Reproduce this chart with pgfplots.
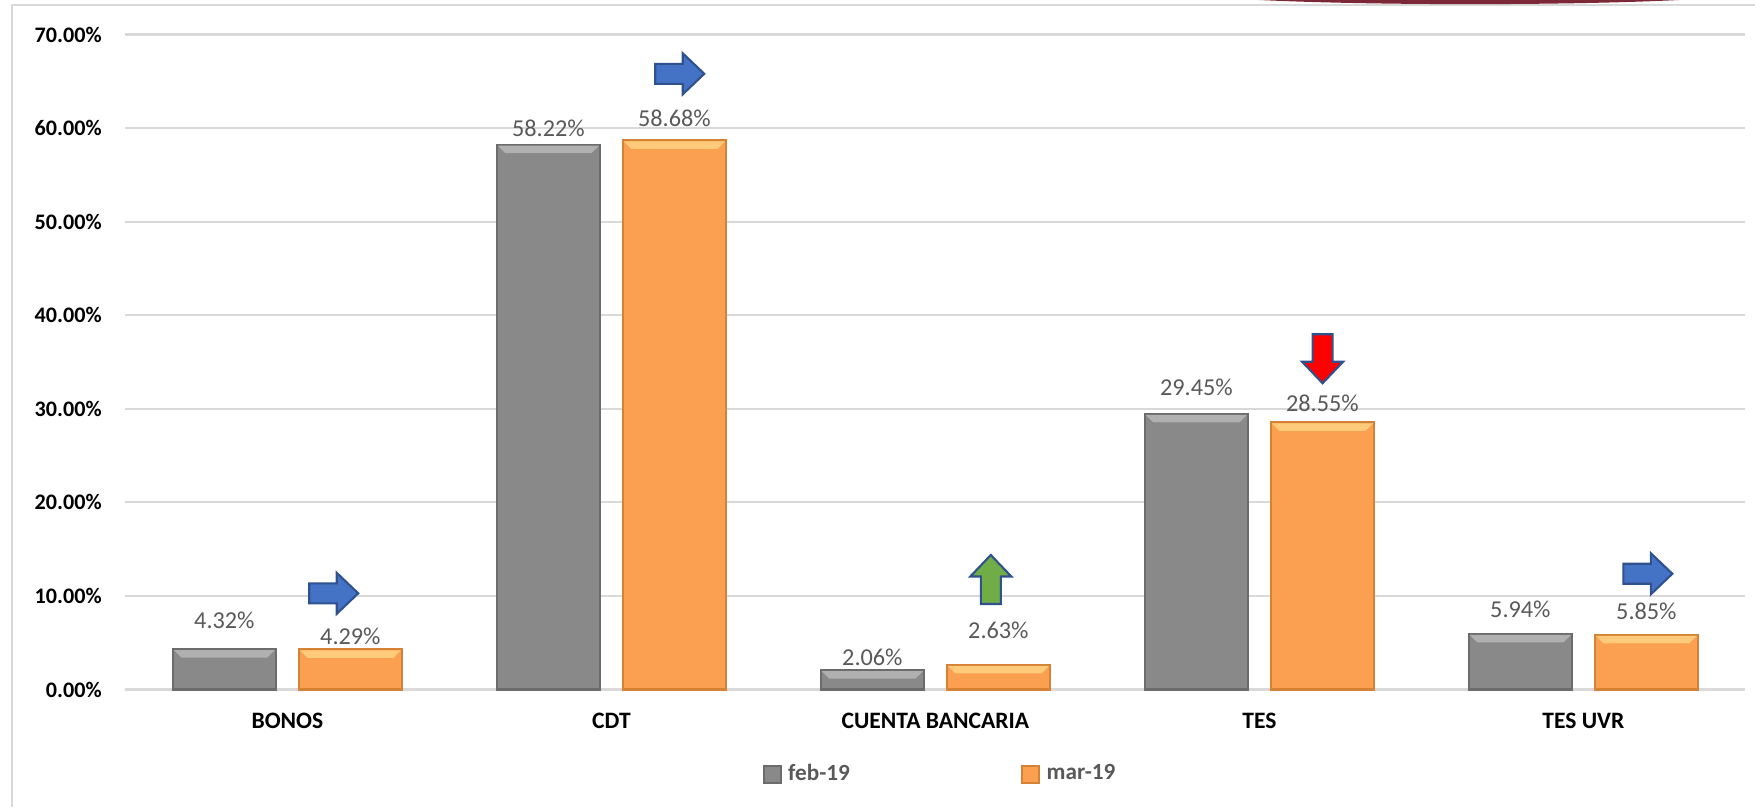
\documentclass[border=0pt]{standalone}
\usepackage{fontspec}
\setmainfont{Carlito}
\usepackage{pgfplots}
\pgfplotsset{compat=1.18}
\usepackage{pgfplotstable}

\definecolor{barGray}{RGB}{137,137,137}
\definecolor{barGrayEdge}{RGB}{108,108,108}
\definecolor{barGrayTop}{RGB}{176,176,176}
\definecolor{barOrange}{RGB}{250,160,80}
\definecolor{barOrangeEdge}{RGB}{214,130,52}
\definecolor{barOrangeTop}{RGB}{255,202,122}
\definecolor{gridGray}{RGB}{217,217,217}
\definecolor{labelGray}{RGB}{89,89,89}
\definecolor{arrowBlue}{RGB}{68,114,196}
\definecolor{arrowEdge}{RGB}{47,82,143}
\definecolor{arrowGreen}{RGB}{112,173,71}
\definecolor{topRed}{RGB}{125,40,55}

% x = category index, y = share in %, off = label shift above the bar (cm)
\pgfplotstableread{
x y off
0 4.32 0.208
1 58.22 0.080
2 2.06 0.046
3 29.45 0.189
4 5.94 0.167
}\febdata
\pgfplotstableread{
x y off
0 4.29 0.052
1 58.68 0.141
2 2.63 0.266
3 28.55 0.107
4 5.85 0.151
}\mardata

% light bevel strip drawn at the top of a bar
\pgfdeclareplotmark{bevtop}{%
  \pgfpathmoveto{\pgfpoint{-0.505cm}{-0.01cm}}%
  \pgfpathlineto{\pgfpoint{0.505cm}{-0.01cm}}%
  \pgfpathlineto{\pgfpoint{0.43cm}{-0.085cm}}%
  \pgfpathlineto{\pgfpoint{-0.43cm}{-0.085cm}}%
  \pgfpathclose
  \pgfusepathqfill
}

% block arrow at an axis point, rotated
\newcommand{\blockarrow}[3]{%
  \draw[line width=0.6pt, draw=arrowEdge, fill=#3, shift={(axis cs:#1)}, rotate=#2]
    (-0.245cm,0.10cm) -- (0.03cm,0.10cm) -- (0.03cm,0.205cm) -- (0.245cm,0cm)
    -- (0.03cm,-0.205cm) -- (0.03cm,-0.10cm) -- (-0.245cm,-0.10cm) -- cycle;
}

\pgfplotsset{
  valbars/.style={ybar, bar width=1.03cm, bar shift=#1, line width=0.6pt,
    nodes near coords={\pgfmathprintnumber[fixed,fixed zerofill,precision=2]{\pgfplotspointmeta}\%},
    visualization depends on={\thisrow{off} \as \laboff},
    every node near coord/.append style={font=\fontsize{6.9}{8}\selectfont, text=labelGray,
      anchor=base, inner sep=0pt, xshift=#1, yshift=\laboff cm}},
}

\begin{document}
\begin{tikzpicture}
\useasboundingbox (-1.254cm,-1.175cm) rectangle (16.296cm,6.895cm);
\begin{axis}[
  at={(0,0)}, anchor=south west,
  scale only axis,
  width=16.2cm, height=6.55cm,
  xmin=-0.5, xmax=4.5, ymin=0, ymax=70,
  axis line style={draw=none},
  major tick length=0pt,
  ymajorgrids,
  grid style={draw=gridGray, line width=0.6pt},
  xtick={0,...,4},
  xticklabels={BONOS,CDT,CUENTA BANCARIA,TES,TES UVR},
  xticklabel style={anchor=base, yshift=-0.388cm, font=\fontsize{6.7}{8}\selectfont\bfseries},
  ytick={0,10,...,70},
  yticklabel={\pgfmathprintnumber[fixed,fixed zerofill,precision=2]{\tick}\%},
  yticklabel style={anchor=east, inner sep=0pt, xshift=-0.23cm, font=\fontsize{6.3}{8}\selectfont\bfseries},
  /pgf/number format/assume math mode=true,
  clip=false,
  legend columns=2,
  legend image code/.code={\fill[#1] (0cm,-0.083cm) rectangle (0.167cm,0.083cm);},
  legend style={at={(0.5034,-0.130)}, anchor=center, draw=none, fill=none,
    font=\fontsize{6.6}{8}\selectfont\bfseries, text=labelGray,
    nodes={inner sep=1pt},
    /tikz/every even column/.append style={column sep=1.68cm},
    /tikz/every odd column/.append style={column sep=0.03cm}},
]
\addplot[valbars=-0.63cm, fill=barGray, draw=barGrayEdge] table[x=x, y=y] {\febdata};
\addplot[valbars=0.63cm, fill=barOrange, draw=barOrangeEdge] table[x=x, y=y] {\mardata};
\legend{feb-19, mar-19}
\addplot[forget plot, only marks, mark=bevtop, mark options={xshift=-0.63cm, fill=barGrayTop, draw=none}] table[x=x, y=y] {\febdata};
\addplot[forget plot, only marks, mark=bevtop, mark options={xshift=0.63cm, fill=barOrangeTop, draw=none}] table[x=x, y=y] {\mardata};

\blockarrow{0.143,10.28}{0}{arrowBlue}
\blockarrow{1.211,65.8}{0}{arrowBlue}
\blockarrow{2.171,11.76}{90}{arrowGreen}
\blockarrow{3.195,35.35}{-90}{red}
\blockarrow{4.199,12.37}{0}{arrowBlue}
\end{axis}
% frame of the chart area
\draw[gridGray, line width=0.8pt] (-1.134cm,-1.175cm) -- (-1.134cm,6.845cm) -- (16.296cm,6.845cm);
\fill[topRed] (11.34cm,6.895cm) .. controls (12.5cm,6.84cm) and (14.4cm,6.84cm) .. (15.54cm,6.895cm) -- cycle;
\end{tikzpicture}
\end{document}
